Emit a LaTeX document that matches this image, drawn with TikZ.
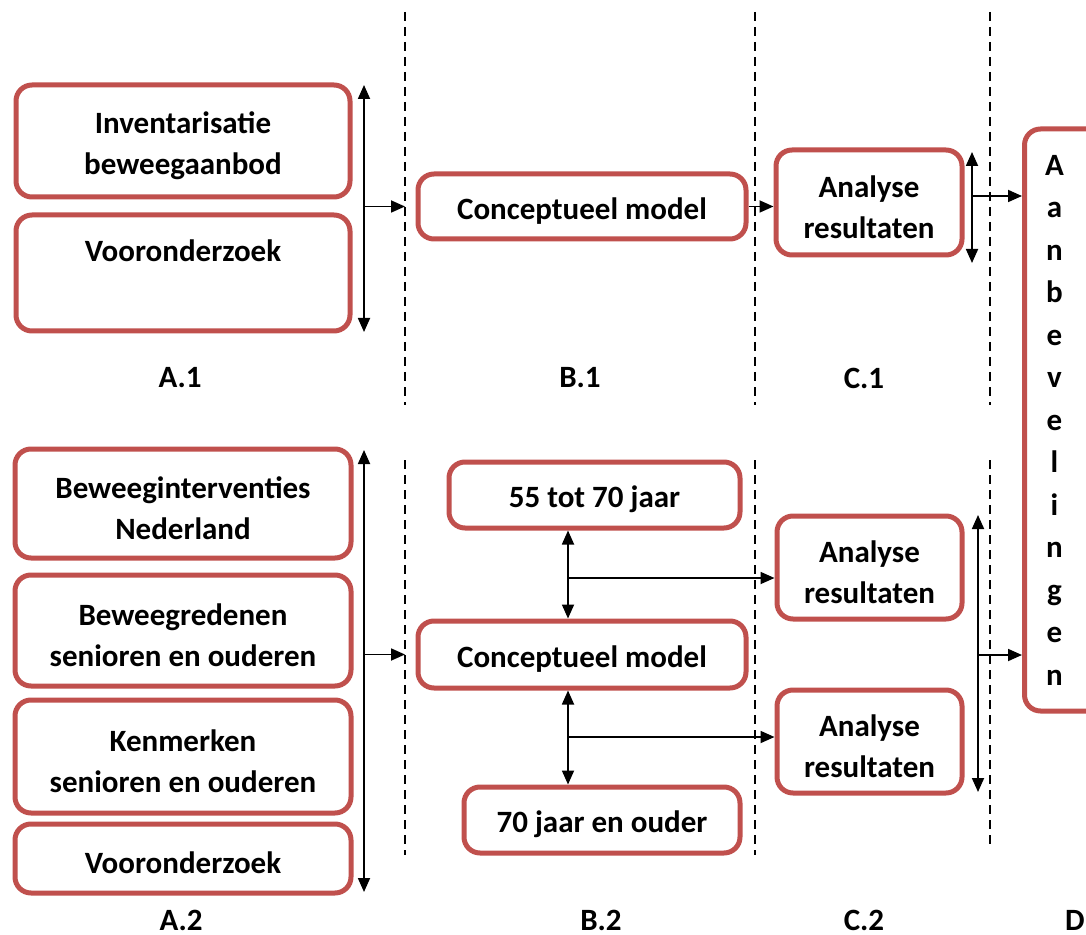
\documentclass[tikz,border=0pt]{standalone}
\usepackage{fontspec}
\setmainfont{Carlito}
\usetikzlibrary{arrows.meta}
\definecolor{boxline}{RGB}{192,80,77}

\newcommand{\vl}[1]{\makebox[30pt]{#1}}
\newcommand{\tstrut}{\rule{0pt}{15.5pt}}

\begin{document}
\begin{tikzpicture}[
  x=0.5pt, y=-0.5pt,
  font=\fontsize{15.5pt}{20.5pt}\selectfont\bfseries,
  box/.style={                              % red rounded box
    draw=boxline, line width=2.5pt, fill=white,
    rectangle, rounded corners=8pt, inner sep=0pt, align=center
  },
  lab/.style={inner sep=0pt},
  arr/.style={draw=black, line width=0.9pt, -{Triangle[length=7pt,width=6pt]}},
  dblarr/.style={draw=black, line width=0.9pt,
    {Triangle[length=7pt,width=6pt]}-{Triangle[length=7pt,width=6pt]}},
  divider/.style={draw=black, line width=1pt, dash pattern=on 4.5pt off 3pt},
]
\useasboundingbox (0,0) rectangle (1086,935);

% ---- Dividers ----
\foreach \x/\e in {405/855, 755/855, 990/850} {
  \draw[divider] (\x,12) -- (\x,405);
  \draw[divider] (\x,460) -- (\x,\e);
}

% ---- Nodes (top row) ----
\node (inv)   at (183,141)     [box, minimum width=167pt, minimum height=56pt]   {\tstrut Inventarisatie\\beweegaanbod};
\node (voor1) at (183,273)     [box, minimum width=167pt, minimum height=58pt]   {\tstrut Vooronderzoek\\\strut};
\node (cm1)   at (582,206.5)   [box, minimum width=164pt, minimum height=32.5pt] {\tstrut Conceptueel model};
\node (an1)   at (869,202.5)   [box, minimum width=93pt,  minimum height=52.5pt] {\tstrut Analyse\\resultaten};

\node (aanb)  at (1022,420)    [box, anchor=west, minimum width=70pt, minimum height=291pt,
                                text width=70pt, align=left,
                                font=\fontsize{15.5pt}{21.25pt}\selectfont\bfseries]
  {\vl{A}\\\vl{a}\\\vl{n}\\\vl{b}\\\vl{e}\\\vl{v}\\\vl{e}\\\vl{l}\\\vl{i}\\\vl{n}\\\vl{g}\\\vl{e}\\\vl{n}};

% ---- Nodes (bottom row) ----
\node (bi)    at (183,503.5)   [box, minimum width=168pt, minimum height=54.5pt] {\tstrut Beweeginterventies\\Nederland};
\node (br)    at (183,630.5)   [box, minimum width=168pt, minimum height=55.5pt] {\tstrut Beweegredenen\\senioren en ouderen};
\node (km)    at (183,756.5)   [box, minimum width=168pt, minimum height=56.5pt] {\tstrut Kenmerken\\senioren en ouderen};
\node (voor2) at (183,858.5)   [box, minimum width=168pt, minimum height=34.5pt] {\tstrut Vooronderzoek};

\node (n55)   at (594.5,495)   [box, minimum width=145.5pt, minimum height=33pt] {\tstrut 55 tot 70 jaar};
\node (cm2)   at (582,654.5)   [box, minimum width=164pt, minimum height=33.5pt] {\tstrut Conceptueel model};
\node (n70)   at (602,820)     [box, minimum width=138pt, minimum height=33pt]   {\tstrut 70 jaar en ouder};

\node (an2)   at (869.5,567.5) [box, minimum width=92.5pt, minimum height=51.5pt] {\tstrut Analyse\\resultaten};
\node (an3)   at (869.5,741.5) [box, minimum width=92.5pt, minimum height=51.5pt] {\tstrut Analyse\\resultaten};

% ---- Column labels ----
\node (labA1) at (180,378)  [lab] {A.1};
\node (labB1) at (580,378)  [lab] {B.1};
\node (labC1) at (864,378)  [lab] {C.1};
\node (labA2) at (181,920)  [lab] {A.2};
\node (labB2) at (601,920)  [lab] {B.2};
\node (labC2) at (864,920)  [lab] {C.2};
\node (labD)  at (1075,920) [lab] {D};

% ---- Brackets and junctions ----
\coordinate (brA1t) at (364,85);
\coordinate (brA1b) at (364,332);
\coordinate (brC1t) at (972,152);
\coordinate (brC1b) at (972,263);
\coordinate (brC1m) at (972,196);
\coordinate (brA2t) at (364,450);
\coordinate (brA2b) at (364,892);
\coordinate (brC2t) at (978,515);
\coordinate (brC2b) at (978,792);
\coordinate (brC2m) at (978,655);
\coordinate (tie1)  at (568,578);
\coordinate (tie2)  at (568,737);
\coordinate (divAB) at (405,12);

% ---- Edges ----
\foreach \t/\b in {brA1t/brA1b, brC1t/brC1b, brA2t/brA2b, brC2t/brC2b}
  \draw[dblarr] (\t) -- (\b);

\draw[arr] (cm1.west -| brA1t) -- (cm1.west -| divAB);
\draw[arr] (cm1.east) -- (cm1.east -| an1.west);
\draw[arr] (brC1m) -- (brC1m -| aanb.west);

\draw[arr] (cm2.west -| brA2t) -- (cm2.west -| divAB);
\draw[dblarr] (tie1 |- n55.south) -- (tie1 |- cm2.north);
\draw[arr] (tie1) -- (tie1 -| an2.west);
\draw[dblarr] (tie2 |- cm2.south) -- (tie2 |- n70.north);
\draw[arr] (tie2) -- (tie2 -| an3.west);
\draw[arr] (brC2m) -- (brC2m -| aanb.west);

\end{tikzpicture}
\end{document}
